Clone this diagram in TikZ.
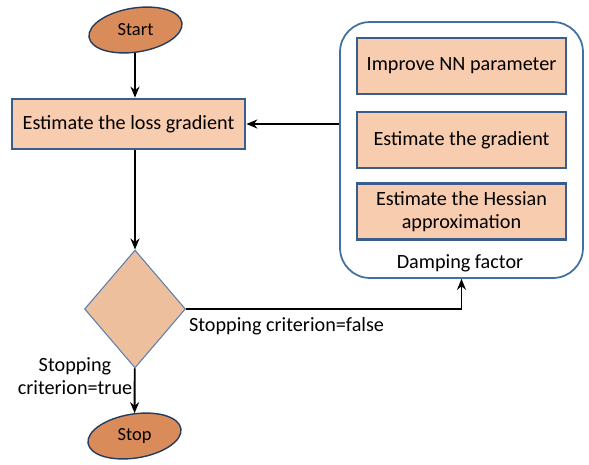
\documentclass[tikz,border=0pt]{standalone}
\usepackage{fontspec}
\setmainfont{Carlito}
\usetikzlibrary{arrows.meta,positioning,shapes.geometric}
\definecolor{ovalfill}{RGB}{218,139,90}
\definecolor{ovaledge}{RGB}{38,60,95}
\definecolor{boxfill}{RGB}{248,204,174}
\definecolor{boxedge}{RGB}{58,94,140}
\definecolor{dmdfill}{RGB}{237,191,156}
\definecolor{dmdedge}{RGB}{91,128,175}
\definecolor{grpedge}{RGB}{65,113,156}
\tikzset{
  oval/.style={fill=ovalfill, draw=ovaledge, line width=0.8pt},
  term/.style={ellipse, minimum width=1.84cm, minimum height=0.9cm, inner sep=0pt, font=\fontsize{10.5}{12}\selectfont},
  proc/.style={rectangle, fill=boxfill, draw=boxedge, line width=1.6pt, align=center, inner sep=2pt, font=\fontsize{11.5}{13}\selectfont},
  dec/.style={diamond, fill=dmdfill, draw=dmdedge, line width=0.6pt, inner sep=0pt, minimum width=2.02cm, minimum height=2.36cm},
  grp/.style={rectangle, draw=grpedge, line width=1pt, rounded corners=0.6cm, minimum width=4.86cm, minimum height=5.12cm},
  lbl/.style={inner sep=1pt, align=center, font=\fontsize{11.5}{13}\selectfont},
  flow/.style={-{Stealth[length=2.2mm,width=1.8mm]}, line width=1.1pt},
}
\begin{document}
\begin{tikzpicture}[x=0.02cm, y=0.02cm]
  \useasboundingbox (0,-464) rectangle (589,0);
  % tilted terminal ovals
  \draw[oval, rotate around={9:(135.5,-30)}] (135.5,-30) ellipse [x radius=47, y radius=22];
  \draw[oval, rotate around={9:(134.5,-436)}] (134.5,-436) ellipse [x radius=47, y radius=22];
  % left column
  \node[term] (start) at (135.5,-30) {Start};
  \node[proc, minimum width=4.66cm, minimum height=1.0cm] (lossgrad) at (128.5,-124) {Estimate the loss gradient};
  \node[dec] (crit) at (135,-309) {};
  \node[term] (stop) at (134.5,-436) {Stop};
  % damping group
  \node[grp] (damp) at (461.5,-150) {};
  \node[proc, minimum width=4.18cm, minimum height=1.12cm] (improve) at (461.5,-66) {Improve NN parameter};
  \node[proc, minimum width=4.18cm, minimum height=1.12cm] (gradest) at (461.5,-140) {Estimate the gradient};
  \node[proc, minimum width=4.18cm, minimum height=1.12cm] (hessian) at (461.5,-211.5) {Estimate the Hessian\\approximation};
  \node[lbl] (damplbl) at (460,-263) {Damping factor};
  % connectors
  \draw[flow] (crit.north |- start.south) -- (crit.north |- lossgrad.north);
  \draw[flow] (lossgrad.south -| crit) -- (crit);
  \draw[flow] (crit) -- (stop);
  \draw[flow] (crit.east) -| (damp.south);
  \draw[flow] (damp.west |- lossgrad) -- (lossgrad.east);
  \node[lbl, anchor=north west] (falselbl) at (187,-315) {Stopping criterion=false};
  \node[lbl] (truelbl) at (75,-376) {Stopping\\criterion=true};
\end{tikzpicture}
\end{document}
